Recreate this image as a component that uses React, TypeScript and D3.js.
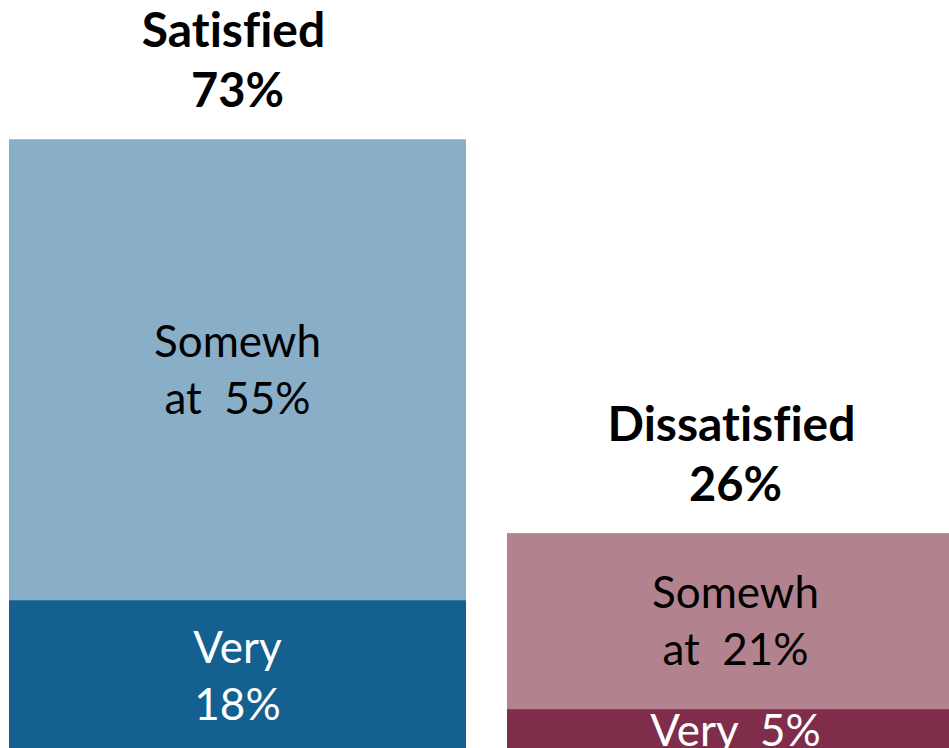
import React from "react";
import * as d3 from "d3";

const groups = ["Satisfied", "Dissatisfied"];
const totals = [73, 26];
const veryValues = [18, 5];
const somewhatValues = [55, 21];
const veryColors = ["#146090", "#7F2D4A"];
const somewhatColors = ["#88AEC8", "#B3828F"];
const somewhatLabels = [["Somewh", "at  55%"], ["Somewh", "at  21%"]];
const veryLabels = [["Very", "18%"], ["Very  5%"]];

const W = 949;
const H = 748;
const FONT = "Lato, 'Open Sans', sans-serif";

export default function App() {
  const x = d3.scaleBand<string>().domain(groups).range([9, 964]).paddingInner(41 / 498);
  const y = d3.scaleLinear().domain([0, 100]).range([751, 751 - 838]);
  const lh = 57;
  const cap = 31;

  const segLabel = (lines: string[], cx: number, y0: number, y1: number, color: string, key: string) => {
    const c = (y0 + y1) / 2;
    const n = lines.length;
    const last = c + (cap + (n - 1) * lh) / 2;
    return lines.map((t, i) => (
      <text
        key={key + i}
        x={cx}
        y={last - (n - 1 - i) * lh}
        textAnchor="middle"
        fontFamily={FONT}
        fontSize={44}
        fill={color}
        style={{ whiteSpace: "pre", fontVariantLigatures: "none" }}
      >
        {t}
      </text>
    ));
  };

  const titleStyle = { fontVariantLigatures: "none" as const };

  return (
    <div style={{ position: "absolute", left: 0, top: 0 }}>
      <svg width={W} height={H} style={{ display: "block" }}>
        <rect width={W} height={H} fill="#ffffff" />
        {groups.map((g, i) => {
          const x0 = x(g)!;
          const bw = x.bandwidth();
          const cx = x0 + bw / 2;
          const yVeryTop = y(veryValues[i]);
          const ySomeTop = y(veryValues[i] + somewhatValues[i]);
          const yTotalTop = y(totals[i]);
          return (
            <g key={g}>
              <rect x={x0} y={ySomeTop} width={bw} height={yVeryTop - ySomeTop} fill={somewhatColors[i]} />
              <rect x={x0} y={yVeryTop} width={bw} height={y(0) - yVeryTop} fill={veryColors[i]} />
              {segLabel(somewhatLabels[i], cx, ySomeTop, yVeryTop, "#000000", g + "s")}
              {segLabel(veryLabels[i], cx, yVeryTop, y(0), "#ffffff", g + "v")}
              <text x={cx - 4} y={yTotalTop - 92} textAnchor="middle" fontFamily={FONT} fontWeight="bold" fontSize={48} fill="#000" style={titleStyle}>
                {g}
              </text>
              <text x={cx} y={yTotalTop - 32} textAnchor="middle" fontFamily={FONT} fontWeight="bold" fontSize={47} fill="#000" style={titleStyle}>
                {totals[i]}%
              </text>
            </g>
          );
        })}
      </svg>
    </div>
  );
}
